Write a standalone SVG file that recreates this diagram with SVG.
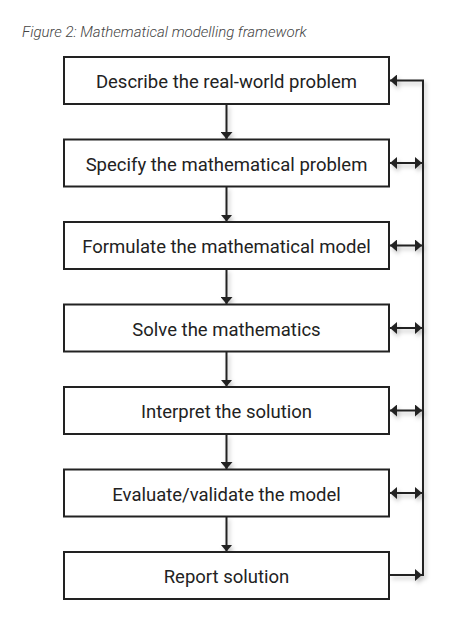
<svg xmlns="http://www.w3.org/2000/svg" width="474" height="626" viewBox="0 0 474 626">
<style>
.box{fill:#fff;stroke:#222;stroke-width:2}
.lbl{font-family:Roboto,"Liberation Sans",sans-serif;font-size:18.5px;font-weight:400;fill:#222;text-anchor:middle}
.title{font-family:Roboto,"Liberation Sans",sans-serif;font-size:15px;font-style:italic;font-weight:300;fill:#444}
.con{fill:none;stroke:#222;stroke-width:2}
</style>
<defs>
<marker id="ah" viewBox="0 0 7 12" refX="7" refY="6" markerWidth="3.5" markerHeight="6" orient="auto-start-reverse" markerUnits="strokeWidth">
<path d="M0,0 L7,6 L0,12 Z" fill="#222"/>
</marker>
<filter id="sh" x="-20%" y="-20%" width="140%" height="140%">
<feDropShadow dx="2" dy="3" stdDeviation="2" flood-color="#000" flood-opacity="0.25"/>
</filter>
</defs>
<rect width="474" height="626" fill="#fff"/>
<text class="title" x="22" y="37">Figure 2: Mathematical modelling framework</text>
<g id="connectors" filter="url(#sh)">
<path class="con" d="M226.5,104 V139" marker-end="url(#ah)"/>
<path class="con" d="M226.5,186.5 V221.5" marker-end="url(#ah)"/>
<path class="con" d="M226.5,269 V304" marker-end="url(#ah)"/>
<path class="con" d="M226.5,351.5 V386.5" marker-end="url(#ah)"/>
<path class="con" d="M226.5,434 V469" marker-end="url(#ah)"/>
<path class="con" d="M226.5,516.5 V551.5" marker-end="url(#ah)"/>
<path class="con" d="M390,575 H423 V80.5 H390" marker-end="url(#ah)"/>
<path class="con" d="M390,163 H422" marker-start="url(#ah)" marker-end="url(#ah)"/>
<path class="con" d="M390,245.5 H422" marker-start="url(#ah)" marker-end="url(#ah)"/>
<path class="con" d="M390,328 H422" marker-start="url(#ah)" marker-end="url(#ah)"/>
<path class="con" d="M390,410.5 H422" marker-start="url(#ah)" marker-end="url(#ah)"/>
<path class="con" d="M390,493 H422" marker-start="url(#ah)" marker-end="url(#ah)"/>
<path class="con" d="M390,575 H422" marker-end="url(#ah)"/>
</g>
<g id="n1"><rect class="box" x="64" y="57" width="325" height="47"/><text class="lbl" x="226.5" y="88">Describe the real-world problem</text></g>
<g id="n2"><rect class="box" x="64" y="139.5" width="325" height="47"/><text class="lbl" x="226.5" y="170.5">Specify the mathematical problem</text></g>
<g id="n3"><rect class="box" x="64" y="222" width="325" height="47"/><text class="lbl" x="226.5" y="253">Formulate the mathematical model</text></g>
<g id="n4"><rect class="box" x="64" y="304.5" width="325" height="47"/><text class="lbl" x="226.5" y="335.5">Solve the mathematics</text></g>
<g id="n5"><rect class="box" x="64" y="387" width="325" height="47"/><text class="lbl" x="226.5" y="418">Interpret the solution</text></g>
<g id="n6"><rect class="box" x="64" y="469.5" width="325" height="47"/><text class="lbl" x="226.5" y="500.5">Evaluate/validate the model</text></g>
<g id="n7"><rect class="box" x="64" y="552" width="325" height="47"/><text class="lbl" x="226.5" y="583">Report solution</text></g>
</svg>
